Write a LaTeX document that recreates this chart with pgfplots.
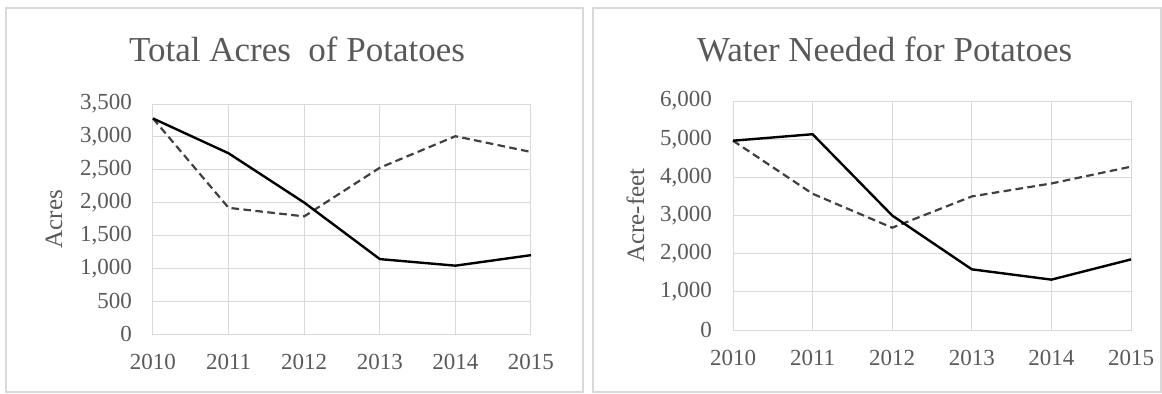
\documentclass[border=0pt]{standalone}
\usepackage{pgfplots}
\pgfplotsset{compat=1.18}
\usepackage{fontspec}
\setmainfont{Liberation Serif}

\definecolor{txt}{HTML}{595959}
\definecolor{gridc}{HTML}{D9D9D9}
\definecolor{framec}{HTML}{D9D9D9}
\definecolor{dashc}{HTML}{404040}

\pgfplotsset{
  every axis title shift=0pt,
  potato/.style={
    scale only axis,
    axis line style={gridc, line width=0.5pt},
    grid=major,
    major grid style={gridc, line width=0.5pt},
    major tick length=0pt,
    xmin=2010, xmax=2015,
    xtick={2010,2011,2012,2013,2014,2015},
    ymin=0,
    /pgf/number format/.cd, 1000 sep={,}, assume math mode=true,
    /pgfplots/.cd,
    xticklabel style={/pgf/number format/1000 sep={}, font=\fontsize{11.5}{14}\selectfont, text=txt, yshift=-6.5pt},
    yticklabel style={font=\fontsize{11.5}{14}\selectfont, text=txt, xshift=-7pt},
    title style={font=\fontsize{17.5}{21}\selectfont, text=txt},
    ylabel style={font=\fontsize{12.5}{15}\selectfont, text=txt},
    clip=false,
  },
  solidline/.style={black, line width=1.2pt, mark=none},
  dashline/.style={dashc, line width=1.1pt, dash pattern=on 3.8pt off 2.2pt, mark=none},
}

\begin{document}
\begin{tikzpicture}
\useasboundingbox (0,0) rectangle (581pt,196.5pt);
% panel frames
\draw[framec, line width=0.9pt] (3pt,0.5pt) rectangle (291.5pt,192.5pt);
\draw[framec, line width=0.9pt] (296.5pt,0.5pt) rectangle (580.5pt,192.5pt);

% Total acres
\begin{axis}[potato,
  at={(76.5pt,29.5pt)}, anchor=south west,
  width=189pt, height=115pt,
  ymax=3500, ytick={0,500,...,3500},
  title={Total Acres\ \ of Potatoes},
  title style={at={(axis description cs:0.381,1.184)}, anchor=base},
  ylabel={Acres},
  ylabel style={at={(axis description cs:-0.2407,0.5)}, anchor=base},
]
\addplot[dashline] coordinates {(2010,3280) (2011,1920) (2012,1790) (2013,2530) (2014,3010) (2015,2770)};
\addplot[solidline] coordinates {(2010,3280) (2011,2750) (2012,2000) (2013,1140) (2014,1040) (2015,1200)};
\end{axis}

% Water needed
\begin{axis}[potato,
  at={(366.5pt,31.5pt)}, anchor=south west,
  width=199pt, height=114.5pt,
  ymax=6000, ytick={0,1000,...,6000},
  title={Water Needed for Potatoes},
  title style={at={(axis description cs:0.381,1.1716)}, anchor=base},
  ylabel={Acre-feet},
  ylabel style={at={(axis description cs:-0.2236,0.5)}, anchor=base},
]
\addplot[dashline] coordinates {(2010,4960) (2011,3570) (2012,2680) (2013,3500) (2014,3840) (2015,4280)};
\addplot[solidline] coordinates {(2010,4960) (2011,5130) (2012,3000) (2013,1590) (2014,1320) (2015,1850)};
\end{axis}
\end{tikzpicture}
\end{document}
